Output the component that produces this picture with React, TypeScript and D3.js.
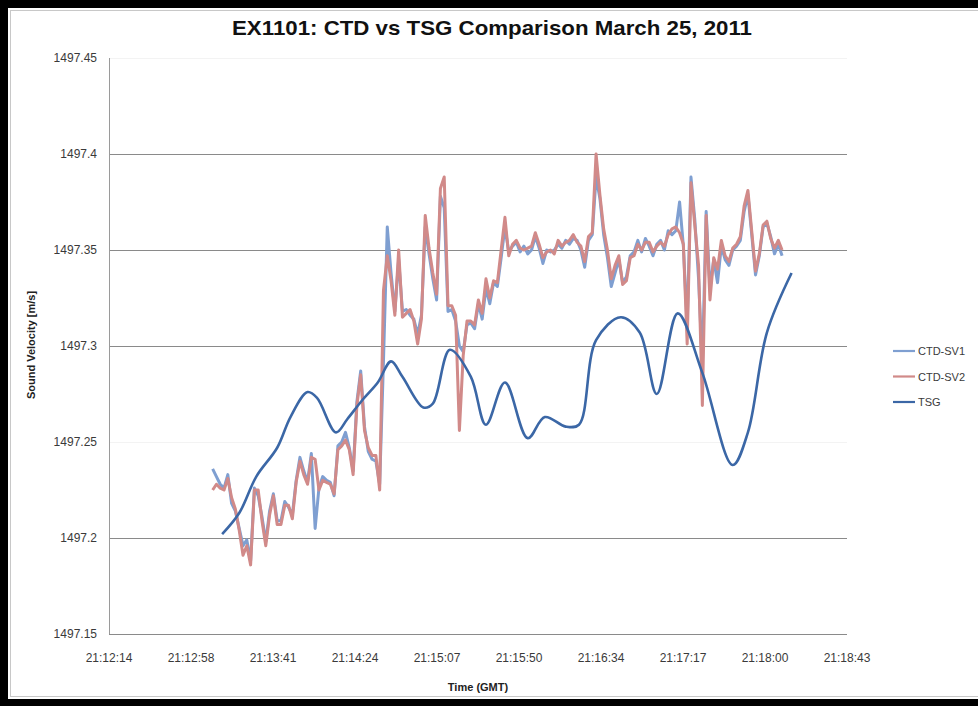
import React from "react";
import * as d3 from "d3";

// chart text
const title = "EX1101: CTD vs TSG Comparison March 25, 2011";
const xTitle = "Time (GMT)";
const yTitle = "Sound Velocity [m/s]";

// axis ticks (Excel time axis, major unit 43.2 s)
const xAxisStart = "21:12:14.4";
const xTickStepSeconds = 43.2;
const xTickLabels = ["21:12:14", "21:12:58", "21:13:41", "21:14:24", "21:15:07", "21:15:50", "21:16:34", "21:17:17", "21:18:00", "21:18:43"];
const yTickValues = [1497.15, 1497.2, 1497.25, 1497.3, 1497.35, 1497.4, 1497.45];
const yTickLabels = ["1497.15", "1497.2", "1497.25", "1497.3", "1497.35", "1497.4", "1497.45"];
const faintGrid = [1497.25, 1497.45];

// CTD casts, one sample every 2 s
const ctdStart = "21:13:09";
const ctdStepSeconds = 2;
const ctdSv1 = [
  1497.236, 1497.232, 1497.228, 1497.226, 1497.233, 1497.218, 1497.214, 1497.205, 1497.196, 1497.199,
  1497.188, 1497.226, 1497.222, 1497.211, 1497.198, 1497.214, 1497.223, 1497.209, 1497.209, 1497.219,
  1497.216, 1497.212, 1497.230, 1497.242, 1497.235, 1497.229, 1497.244, 1497.205, 1497.226, 1497.232,
  1497.230, 1497.229, 1497.222, 1497.248, 1497.250, 1497.255, 1497.247, 1497.235, 1497.271, 1497.287,
  1497.258, 1497.245, 1497.241, 1497.240, 1497.228, 1497.292, 1497.362, 1497.338, 1497.318, 1497.345,
  1497.318, 1497.319, 1497.316, 1497.314, 1497.306, 1497.316, 1497.362, 1497.348, 1497.335, 1497.324,
  1497.378, 1497.372, 1497.318, 1497.319, 1497.313, 1497.300, 1497.297, 1497.311, 1497.312, 1497.309,
  1497.322, 1497.314, 1497.330, 1497.322, 1497.333, 1497.331, 1497.346, 1497.362, 1497.349, 1497.352,
  1497.354, 1497.349, 1497.352, 1497.348, 1497.350, 1497.357, 1497.351, 1497.343, 1497.350, 1497.349,
  1497.350, 1497.353, 1497.351, 1497.355, 1497.353, 1497.356, 1497.355, 1497.350, 1497.341, 1497.355,
  1497.358, 1497.388, 1497.377, 1497.358, 1497.346, 1497.331, 1497.338, 1497.345, 1497.333, 1497.336,
  1497.347, 1497.349, 1497.355, 1497.349, 1497.356, 1497.352, 1497.347, 1497.353, 1497.355, 1497.350,
  1497.360, 1497.358, 1497.360, 1497.375, 1497.352, 1497.310, 1497.388, 1497.366, 1497.335, 1497.290,
  1497.370, 1497.330, 1497.345, 1497.333, 1497.352, 1497.345, 1497.342, 1497.350, 1497.352, 1497.355,
  1497.370, 1497.379, 1497.358, 1497.337, 1497.347, 1497.362, 1497.364, 1497.357, 1497.348, 1497.353, 1497.347,
];
const ctdSv2 = [
  1497.225, 1497.228, 1497.226, 1497.225, 1497.231, 1497.221, 1497.215, 1497.204, 1497.191, 1497.196,
  1497.186, 1497.225, 1497.225, 1497.209, 1497.196, 1497.212, 1497.222, 1497.207, 1497.207, 1497.217,
  1497.217, 1497.210, 1497.229, 1497.240, 1497.233, 1497.228, 1497.242, 1497.241, 1497.225, 1497.230,
  1497.229, 1497.228, 1497.223, 1497.246, 1497.248, 1497.251, 1497.246, 1497.233, 1497.269, 1497.285,
  1497.256, 1497.247, 1497.243, 1497.243, 1497.225, 1497.329, 1497.347, 1497.334, 1497.316, 1497.350,
  1497.315, 1497.317, 1497.319, 1497.313, 1497.301, 1497.314, 1497.368, 1497.351, 1497.338, 1497.327,
  1497.382, 1497.388, 1497.321, 1497.321, 1497.316, 1497.256, 1497.295, 1497.313, 1497.313, 1497.311,
  1497.324, 1497.317, 1497.335, 1497.325, 1497.334, 1497.333, 1497.350, 1497.367, 1497.347, 1497.353,
  1497.355, 1497.351, 1497.350, 1497.351, 1497.352, 1497.359, 1497.353, 1497.346, 1497.349, 1497.350,
  1497.348, 1497.355, 1497.352, 1497.354, 1497.355, 1497.358, 1497.354, 1497.352, 1497.344, 1497.357,
  1497.359, 1497.400, 1497.379, 1497.361, 1497.350, 1497.335, 1497.342, 1497.347, 1497.332, 1497.334,
  1497.346, 1497.347, 1497.353, 1497.350, 1497.354, 1497.354, 1497.349, 1497.352, 1497.354, 1497.352,
  1497.358, 1497.361, 1497.362, 1497.359, 1497.353, 1497.301, 1497.385, 1497.363, 1497.342, 1497.269,
  1497.368, 1497.324, 1497.346, 1497.340, 1497.355, 1497.347, 1497.344, 1497.351, 1497.353, 1497.357,
  1497.373, 1497.381, 1497.360, 1497.339, 1497.348, 1497.363, 1497.365, 1497.356, 1497.351, 1497.355, 1497.350,
];

// thermosalinograph, smoothed line
const tsgTimes = [
  "21:13:14", "21:13:23", "21:13:32", "21:13:43", "21:13:50", "21:13:59", "21:14:04", "21:14:14", "21:14:20",
  "21:14:28", "21:14:36", "21:14:43", "21:14:49", "21:15:00", "21:15:05", "21:15:14", "21:15:25", "21:15:33",
  "21:15:43", "21:15:55", "21:16:04", "21:16:15", "21:16:22", "21:16:31", "21:16:44", "21:16:54", "21:17:03",
  "21:17:14", "21:17:27", "21:17:43", "21:17:51", "21:18:01", "21:18:14",
];
const tsgValues = [
  1497.202, 1497.213, 1497.232, 1497.247, 1497.263, 1497.276, 1497.273, 1497.255, 1497.262,
  1497.272, 1497.281, 1497.292, 1497.284, 1497.268, 1497.270, 1497.298, 1497.284, 1497.259,
  1497.281, 1497.252, 1497.263, 1497.258, 1497.259, 1497.303, 1497.315, 1497.307, 1497.275,
  1497.317, 1497.286, 1497.238, 1497.255, 1497.307, 1497.338,
];

const seriesNames = ["CTD-SV1", "CTD-SV2", "TSG"];
const seriesColors = ["#7f9fd1", "#d18a89", "#3b67a6"];

const parseTime = (s: string) => {
  const [h, m, sec] = s.split(":").map(Number);
  return h * 3600 + m * 60 + sec;
};

const font = "'Liberation Sans', Arial, sans-serif";

function Chart() {
  const width = 978;
  const height = 706;
  const plot = { left: 109, right: 847, top: 58, bottom: 634 };

  const t0 = parseTime(xAxisStart);
  const xTicks = xTickLabels.map((_, i) => t0 + i * xTickStepSeconds);
  const x = d3.scaleLinear()
    .domain([t0, xTicks[xTicks.length - 1]])
    .range([plot.left, plot.right]);
  const y = d3.scaleLinear()
    .domain([yTickValues[0], yTickValues[yTickValues.length - 1]])
    .range([plot.bottom, plot.top]);

  const ctdT0 = parseTime(ctdStart);
  const ctdLine = d3.line<number>()
    .x((_, i) => x(ctdT0 + i * ctdStepSeconds))
    .y((d) => y(d));
  const tsgLine = d3.line<number>()
    .x((_, i) => x(parseTime(tsgTimes[i])))
    .y((d) => y(d))
    .curve(d3.curveCatmullRom.alpha(0.5));

  return (
    <svg width={width} height={height} style={{ position: "absolute", left: 0, top: 0, background: "#fff" }}>
      <rect x={0} y={0} width={width} height={height} fill="#fff" />
      {/* frame */}
      <rect x={0} y={0} width={width} height={8} fill="#000" />
      <rect x={0} y={0} width={8} height={height} fill="#000" />
      <rect x={0} y={699} width={width} height={7} fill="#000" />
      <rect x={10.5} y={10.5} width={width} height={686} fill="none" stroke="#c8c8c8" />

      <text x={492} y={35} textAnchor="middle" fontFamily={font} fontWeight="bold" fontSize={21}
        textLength={520} lengthAdjust="spacingAndGlyphs" fill="#111">{title}</text>

      {/* grid */}
      {yTickValues.slice(1).map((v) => (
        <line key={v} x1={plot.left} x2={plot.right} y1={Math.round(y(v)) + 0.5} y2={Math.round(y(v)) + 0.5}
          stroke={faintGrid.includes(v) ? "#f3f3f3" : "#8a8a8a"} strokeWidth={1} />
      ))}
      <line x1={plot.left + 0.5} x2={plot.left + 0.5} y1={plot.top} y2={plot.bottom} stroke="#9a9a9a" />
      <line x1={plot.left} x2={plot.right} y1={plot.bottom + 0.5} y2={plot.bottom + 0.5} stroke="#8a8a8a" />

      {yTickValues.map((v, i) => (
        <text key={v} x={97} y={y(v) + 4} textAnchor="end" fontFamily={font} fontSize={12} fill="#3a3a3a">
          {yTickLabels[i]}
        </text>
      ))}
      {xTicks.map((t, i) => (
        <text key={t} x={x(t)} y={662} textAnchor="middle" fontFamily={font} fontSize={12} fill="#3a3a3a">
          {xTickLabels[i]}
        </text>
      ))}

      <text x={478} y={691} textAnchor="middle" fontFamily={font} fontWeight="bold" fontSize={11} fill="#222">{xTitle}</text>
      <text transform="translate(35,345) rotate(-90)" textAnchor="middle" fontFamily={font} fontWeight="bold"
        fontSize={11} fill="#222">{yTitle}</text>

      {/* series */}
      <path d={ctdLine(ctdSv1) ?? ""} fill="none" stroke={seriesColors[0]} strokeWidth={3} strokeLinejoin="round" />
      <path d={ctdLine(ctdSv2) ?? ""} fill="none" stroke={seriesColors[1]} strokeWidth={3} strokeLinejoin="round" />
      <path d={tsgLine(tsgValues) ?? ""} fill="none" stroke={seriesColors[2]} strokeWidth={2.6} strokeLinejoin="round" />

      {/* legend */}
      {seriesNames.map((name, i) => (
        <g key={name} transform={`translate(893,${351 + i * 25.5})`}>
          <line x1={0} x2={22} y1={0} y2={0} stroke={seriesColors[i]} strokeWidth={2.2} />
          <text x={25} y={4} fontFamily={font} fontSize={11} fill="#3a3a3a">{name}</text>
        </g>
      ))}
    </svg>
  );
}

export default function App() {
  return <Chart />;
}
